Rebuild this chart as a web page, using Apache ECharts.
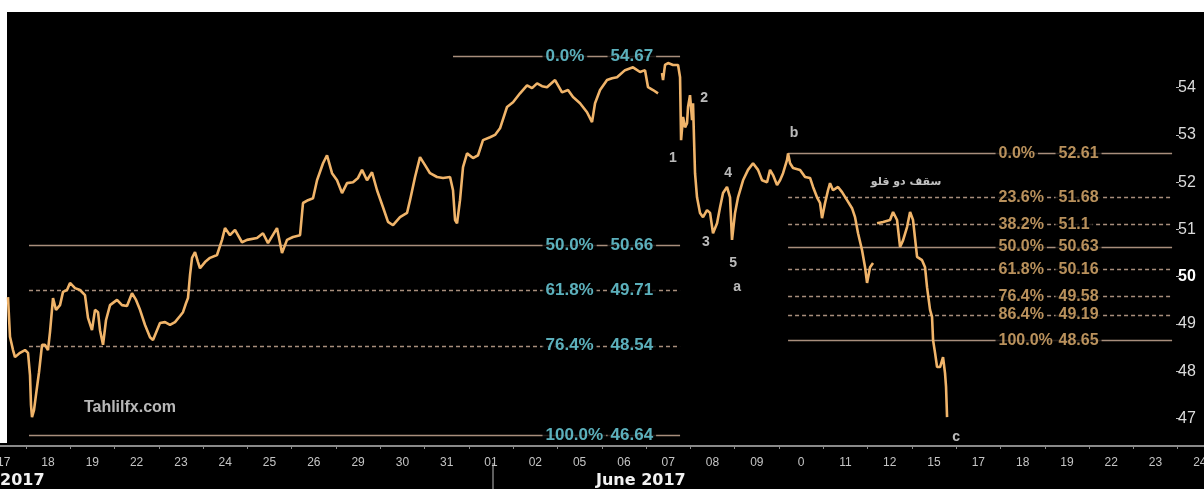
<!DOCTYPE html>
<html><head><meta charset="utf-8">
<script src="https://cdn.jsdelivr.net/npm/echarts@6/dist/echarts.min.js"></script>
<style>
html,body{margin:0;padding:0;background:#000;width:1204px;height:489px;overflow:hidden}
#wt{position:absolute;left:0;top:0;width:1204px;height:12px;background:#fff}
#wl{position:absolute;left:0;top:0;width:7px;height:443px;background:#fff}
#chart{position:absolute;left:0;top:0;width:1204px;height:489px}
</style></head><body>
<div id="wt"></div><div id="wl"></div><div id="chart"></div>
<script>
// x unit: trading-day slots (day i spans [i, i+1]); labels are centred in each slot
const dayLabels = ['17','18','19','22','23','24','25','26','29','30','31','01','02','05','06','07','08','09','0','11','12','15','17','18','19','22','23','24'];
const yTicks = [47,48,49,50,51,52,53,54];

const times = [0.597,0.642,0.710,0.755,0.868,0.981,1.049,1.094,1.116,1.139,1.184,1.229,1.297,1.365,1.432,1.500,1.545,1.613,1.681,1.771,
1.839,1.929,1.997,2.110,2.222,2.335,2.403,2.493,2.561,2.629,2.674,2.742,2.809,2.900,3.058,3.170,3.283,3.396,3.487,3.577,
3.690,3.803,3.870,3.961,4.028,4.141,4.254,4.367,4.480,4.547,4.615,4.660,4.706,4.751,4.818,4.886,4.931,5.044,5.157,5.315,
5.428,5.495,5.608,5.721,5.879,5.992,6.218,6.353,6.466,6.669,6.782,6.895,7.031,7.189,7.256,7.369,7.482,7.573,7.708,7.798,
7.911,8.024,8.137,8.250,8.385,8.498,8.588,8.701,8.814,8.927,9.062,9.175,9.288,9.446,9.604,9.672,9.785,9.897,10.010,10.123,
10.281,10.417,10.575,10.642,10.688,10.733,10.800,10.868,10.959,11.094,11.207,11.319,11.478,11.590,11.703,11.861,11.997,12.155,12.313,12.426,
12.539,12.652,12.764,12.945,13.103,13.238,13.351,13.509,13.667,13.780,13.848,13.961,14.119,14.232,14.344,14.525,14.705,14.864,14.976,15.044,
15.157,15.270,15.315,15.360,15.383,15.428,15.496,15.609,15.722,15.767,15.790,15.835,15.880,15.925,15.947,15.992,16.038,16.060,16.083,16.105,
16.150,16.218,16.286,16.376,16.444,16.511,16.602,16.670,16.737,16.827,16.895,16.940,17.008,17.076,17.189,17.301,17.414,17.527,17.618,17.731,
17.798,17.866,17.956,18.024,18.092,18.182,18.205,18.250,18.318,18.476,18.589,18.701,18.769,18.859,18.927,18.972,19.040,19.107,19.152,19.220,
19.333,19.424,19.536,19.649,19.717,19.785,19.875,19.943,19.988,20.056,20.123,20.170,20.214,20.349,20.507,20.575,20.665,20.733,20.800,20.891,
20.959,21.026,21.117,21.229,21.297,21.342,21.410,21.455,21.478,21.523,21.568,21.636,21.703,21.748,21.771,21.794];

const prices = [49.57,48.73,48.45,48.30,48.39,48.45,48.39,47.92,47.29,47.03,47.18,47.50,47.98,48.56,48.56,48.45,48.83,49.55,49.30,49.40,
49.68,49.72,49.87,49.76,49.72,49.61,49.13,48.87,49.30,49.25,48.87,48.56,49.08,49.40,49.51,49.40,49.38,49.65,49.51,49.30,
48.98,48.72,48.66,48.87,49.02,49.04,48.98,49.04,49.17,49.25,49.44,49.55,50.04,50.40,50.52,50.31,50.18,50.31,50.40,50.46,
50.78,51.03,50.88,50.99,50.73,50.78,50.82,50.92,50.71,51.03,50.50,50.78,50.84,50.88,51.56,51.62,51.66,52.04,52.40,52.57,
52.19,52.04,51.77,51.98,52.00,52.09,52.26,52.04,52.21,51.83,51.47,51.16,51.09,51.26,51.35,51.62,52.11,52.53,52.36,52.19,
52.11,52.09,52.11,51.83,51.20,51.13,51.62,52.32,52.61,52.51,52.57,52.89,52.95,53.00,53.14,53.59,53.69,53.88,54.05,53.99,
54.09,54.03,54.01,54.16,53.90,53.95,53.80,53.67,53.48,53.27,53.67,53.95,54.16,54.20,54.22,54.37,54.43,54.33,54.37,54.01,
53.95,53.88,null,54.31,54.16,54.48,54.52,54.48,54.48,54.22,52.89,53.38,53.16,53.25,53.59,53.84,53.31,53.67,52.89,52.19,
51.68,51.35,51.26,51.41,51.35,50.92,51.13,51.47,51.77,51.90,51.68,50.78,51.35,51.68,52.04,52.26,52.40,52.26,52.04,52.00,
52.26,52.15,51.94,52.04,52.19,52.47,52.61,52.40,52.30,52.26,52.11,52.09,51.90,51.68,51.56,51.24,51.56,51.83,51.98,51.83,
51.90,51.79,51.62,51.45,51.26,50.92,50.56,50.20,49.87,50.20,50.29,null,51.13,51.16,51.20,51.37,51.20,50.63,50.77,51.05,
51.37,51.20,50.42,50.35,50.20,49.78,49.30,49.15,48.66,48.39,48.09,48.09,48.30,47.96,47.67,47.03];

// Fibonacci set 1 (46.64 -> 54.67)
const fibLeftPct = ['0.0%','50.0%','61.8%','76.4%','100.0%'];
const fibLeftLevels = [54.67,50.66,49.71,48.54,46.64];
const fibLeftStart = [10.642,1.071,1.071,1.071,1.071];
const fibLeftEnd = 15.767;
const fibLeftPctAt = 12.651, fibLeftValAt = 14.119;
// Fibonacci set 2 (52.61 -> 48.65)
const fibRightPct = ['0.0%','23.6%','38.2%','50.0%','61.8%','76.4%','86.4%','100.0%'];
const fibRightLevels = [52.61,51.68,51.1,50.63,50.16,49.58,49.19,48.65];
const fibRightStart = 18.205, fibRightEnd = 26.873;
const fibRightPctAt = 22.877, fibRightValAt = 24.231;

// wave annotations
const waveText = ['1','2','3','4','5','a','b','c'];
const waveT = [15.608,16.308,16.353,16.850,16.963,17.053,18.340,22.0];
const waveP = [52.51,53.78,50.73,52.19,50.29,49.78,53.04,46.61];
const noteText = ['سقف دو قلو','Tahlilfx.com'];
const noteT = [20.868,3.351];
const noteP = [52.00,47.24];

const FONT = 'Liberation Sans';
const solidPct = p => p==='0.0%'||p==='50.0%'||p==='100.0%';

const priceData = times.map((t,i)=> prices[i]===null ? [t,'-'] : [t,prices[i]]);

function fibLines(levels,pcts,starts,end,color){
  return levels.map((lv,i)=>[
    {coord:[Array.isArray(starts)?starts[i]:starts, lv],
     lineStyle:{color:color,width:1.4,type: solidPct(pcts[i])?'solid':[4,3]}},
    {coord:[end, lv]}
  ]);
}
const lineColL = '#a88e7c', lineColR = '#a88e7c';
const markData = fibLines(fibLeftLevels,fibLeftPct,fibLeftStart,fibLeftEnd,lineColL)
  .concat(fibLines(fibRightLevels,fibRightPct,fibRightStart,fibRightEnd,lineColR));

function labelItems(levels,texts,at){
  return levels.map((lv,i)=>({value:[at,lv],name:texts[i]}));
}
function labelSeries(data,color,size){
  return {type:'scatter',data:data,symbolSize:1,itemStyle:{color:'rgba(0,0,0,0)'},silent:true,z:5,
    label:{show:true,position:'right',distance:0,formatter:'{b}',color:color,fontFamily:FONT,
      fontWeight:'bold',fontSize:size,backgroundColor:'#000',padding:[0,3]}};
}

const cyan = '#72dbea', tan = '#e6b472';
const tickVals = []; for(let i=1;i<=27;i++) tickVals.push(i);
const labVals = dayLabels.map((d,i)=>i+0.5);

const chart = echarts.init(document.getElementById('chart'));
chart.setOption({
  animation:false,
  backgroundColor:'transparent',
  grid:{left:0,right:-18,top:12,bottom:43,containLabel:false,outerBoundsMode:'none'},
  xAxis:{type:'value',min:0.4165,max:28,
    axisLine:{show:true,lineStyle:{color:'#8a8a8a',width:2}},
    axisTick:{show:true,customValues:tickVals,length:3,lineStyle:{color:'#8a8a8a'}},
    axisLabel:{customValues:labVals,formatter:v=>dayLabels[Math.round(v-0.5)],color:'#c4c4c4',
      fontSize:12,fontFamily:FONT,margin:11},
    splitLine:{show:false}},
  yAxis:{type:'value',position:'right',offset:-46,min:46.42,max:55.6,
    axisLine:{show:false},splitLine:{show:false},
    axisTick:{show:true,customValues:yTicks,length:3,lineStyle:{color:'#bbb'}},
    axisLabel:{customValues:yTicks,margin:2,color:'#dcdcdc',fontSize:16,fontFamily:FONT,
      formatter:v=> v===50 ? '{b|50}' : String(v),
      rich:{b:{fontWeight:'bold',color:'#fff',fontSize:16,fontFamily:FONT}}}},
  series:[
    {type:'line',data:priceData,showSymbol:false,connectNulls:false,z:3,
      lineStyle:{color:'#f0b46a',width:2.6},
      markLine:{silent:true,symbol:['none','none'],label:{show:false},data:markData,z:2}},
    labelSeries(labelItems(fibLeftLevels,fibLeftPct,fibLeftPctAt),cyan,17),
    labelSeries(labelItems(fibLeftLevels,fibLeftLevels.map(String),fibLeftValAt),cyan,17),
    labelSeries(labelItems(fibRightLevels,fibRightPct,fibRightPctAt),tan,16),
    labelSeries(labelItems(fibRightLevels,fibRightLevels.map(String),fibRightValAt),tan,16),
    {type:'scatter',silent:true,z:6,symbolSize:1,itemStyle:{color:'rgba(0,0,0,0)'},
      data:waveText.map((s,i)=>({value:[waveT[i],waveP[i]],name:s})),
      label:{show:true,position:'inside',formatter:'{b}',color:'#e8e8e8',fontFamily:FONT,fontWeight:'bold',fontSize:14}},
    {type:'scatter',silent:true,z:6,symbolSize:1,itemStyle:{color:'rgba(0,0,0,0)'},
      data:[{value:[noteT[0],noteP[0]],name:noteText[0]}],
      label:{show:true,position:'inside',formatter:'{b}',color:'#f2f2f2',fontFamily:'DejaVu Sans',fontWeight:'bold',fontSize:11}},
    {type:'scatter',silent:true,z:6,symbolSize:1,itemStyle:{color:'rgba(0,0,0,0)'},
      data:[{value:[noteT[1],noteP[1]],name:noteText[1]}],
      label:{show:true,position:'inside',formatter:'{b}',color:'#e6e6e6',fontFamily:FONT,fontWeight:'bold',fontSize:16}}
  ],
  graphic:[
    {type:'text',left:0,top:473,style:{text:'2017',fill:'#f2f2f2',font:'bold 16px "DejaVu Sans"'}},
    {type:'text',left:596,top:473,style:{text:'June 2017',fill:'#f2f2f2',font:'bold 16px "DejaVu Sans"'}},
    {type:'line',shape:{x1:493,y1:463,x2:493,y2:489},style:{stroke:'#bbb',lineWidth:1}}
  ]
});
</script>
</body></html>
